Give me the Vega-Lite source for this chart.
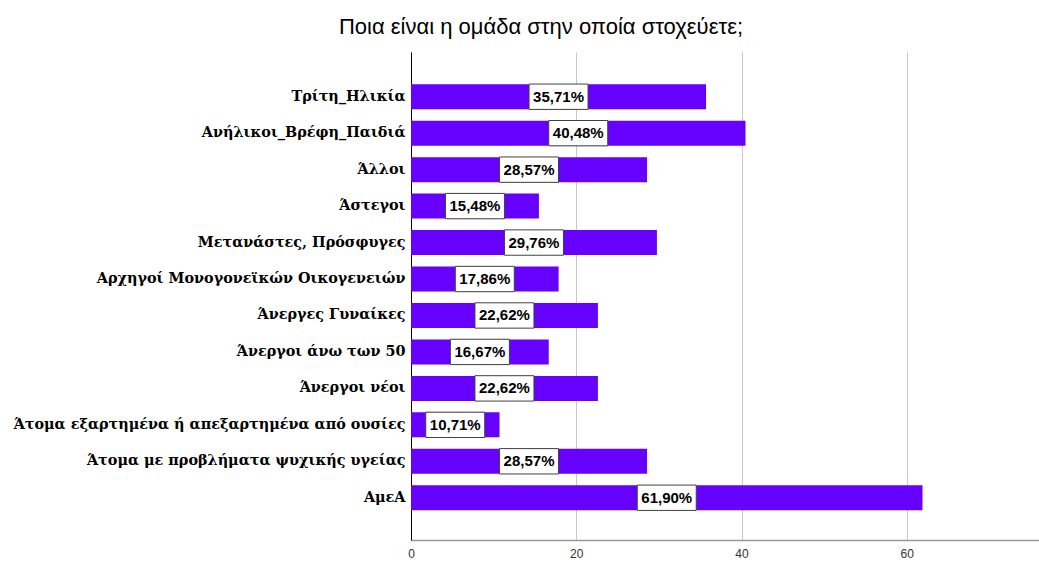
{
  "$schema": "https://vega.github.io/schema/vega-lite/v6.json",
  "autosize": "none",
  "width": 628,
  "height": 488,
  "padding": {"left": 411, "top": 52, "right": 0, "bottom": 22},
  "background": "white",
  "title": {
    "text": "Ποια είναι η ομάδα στην οποία στοχεύετε;",
    "font": "Liberation Sans",
    "fontSize": 22,
    "fontWeight": "normal",
    "color": "#000000",
    "anchor": "middle",
    "dx": -184,
    "offset": 13
  },
  "data": {
    "values": [
      {"group": "Τρίτη_Ηλικία", "pct": 35.71, "label": "35,71%"},
      {"group": "Ανήλικοι_Βρέφη_Παιδιά", "pct": 40.48, "label": "40,48%"},
      {"group": "Άλλοι", "pct": 28.57, "label": "28,57%"},
      {"group": "Άστεγοι", "pct": 15.48, "label": "15,48%"},
      {"group": "Μετανάστες, Πρόσφυγες", "pct": 29.76, "label": "29,76%"},
      {"group": "Αρχηγοί Μονογονεϊκών Οικογενειών", "pct": 17.86, "label": "17,86%"},
      {"group": "Άνεργες Γυναίκες", "pct": 22.62, "label": "22,62%"},
      {"group": "Άνεργοι άνω των 50", "pct": 16.67, "label": "16,67%"},
      {"group": "Άνεργοι νέοι", "pct": 22.62, "label": "22,62%"},
      {"group": "Άτομα εξαρτημένα ή απεξαρτημένα από ουσίες", "pct": 10.71, "label": "10,71%"},
      {"group": "Άτομα με προβλήματα ψυχικής υγείας", "pct": 28.57, "label": "28,57%"},
      {"group": "ΑμεΑ", "pct": 61.90, "label": "61,90%"}
    ]
  },
  "encoding": {
    "y": {
      "field": "group",
      "type": "nominal",
      "sort": null,
      "title": null,
      "scale": {"paddingInner": 0.314, "paddingOuter": 0.85, "align": 0.52},
      "axis": {
        "labelFont": "DejaVu Serif",
        "labelFontWeight": "bold",
        "labelFontSize": 14.4,
        "labelColor": "#000000",
        "labelPadding": 6,
        "labelLimit": 420,
        "ticks": false,
        "domainColor": "#000000",
        "domainWidth": 1
      }
    }
  },
  "layer": [
    {
      "mark": {"type": "bar", "color": "#6600ff"},
      "encoding": {
        "x": {
          "field": "pct",
          "type": "quantitative",
          "scale": {"domain": [0, 76], "nice": false},
          "title": null,
          "axis": {
            "values": [0, 20, 40, 60],
            "grid": true,
            "gridColor": "#c8c8c8",
            "gridWidth": 1,
            "domainColor": "#999999",
            "domainWidth": 1.5,
            "ticks": false,
            "labelFont": "Liberation Sans",
            "labelFontSize": 12,
            "labelColor": "#333333",
            "labelPadding": 8,
            "labelFlush": false
          }
        }
      }
    },
    {
      "mark": {
        "type": "point",
        "shape": "M-1,-0.43H1V0.43H-1Z",
        "filled": true,
        "fill": "white",
        "stroke": "#404040",
        "strokeWidth": 1,
        "opacity": 1,
        "size": 3481
      },
      "encoding": {
        "x": {"field": "pct", "type": "quantitative", "scale": {"domain": [0, 152], "nice": false}, "axis": null}
      }
    },
    {
      "mark": {
        "type": "text",
        "font": "Liberation Sans",
        "fontWeight": "bold",
        "fontSize": 15,
        "color": "#000000",
        "align": "center",
        "baseline": "middle"
      },
      "encoding": {
        "x": {"field": "pct", "type": "quantitative", "scale": {"domain": [0, 152], "nice": false}, "axis": null},
        "text": {"field": "label", "type": "nominal"}
      }
    }
  ],
  "resolve": {"scale": {"x": "independent"}},
  "config": {"view": {"stroke": null}}
}
